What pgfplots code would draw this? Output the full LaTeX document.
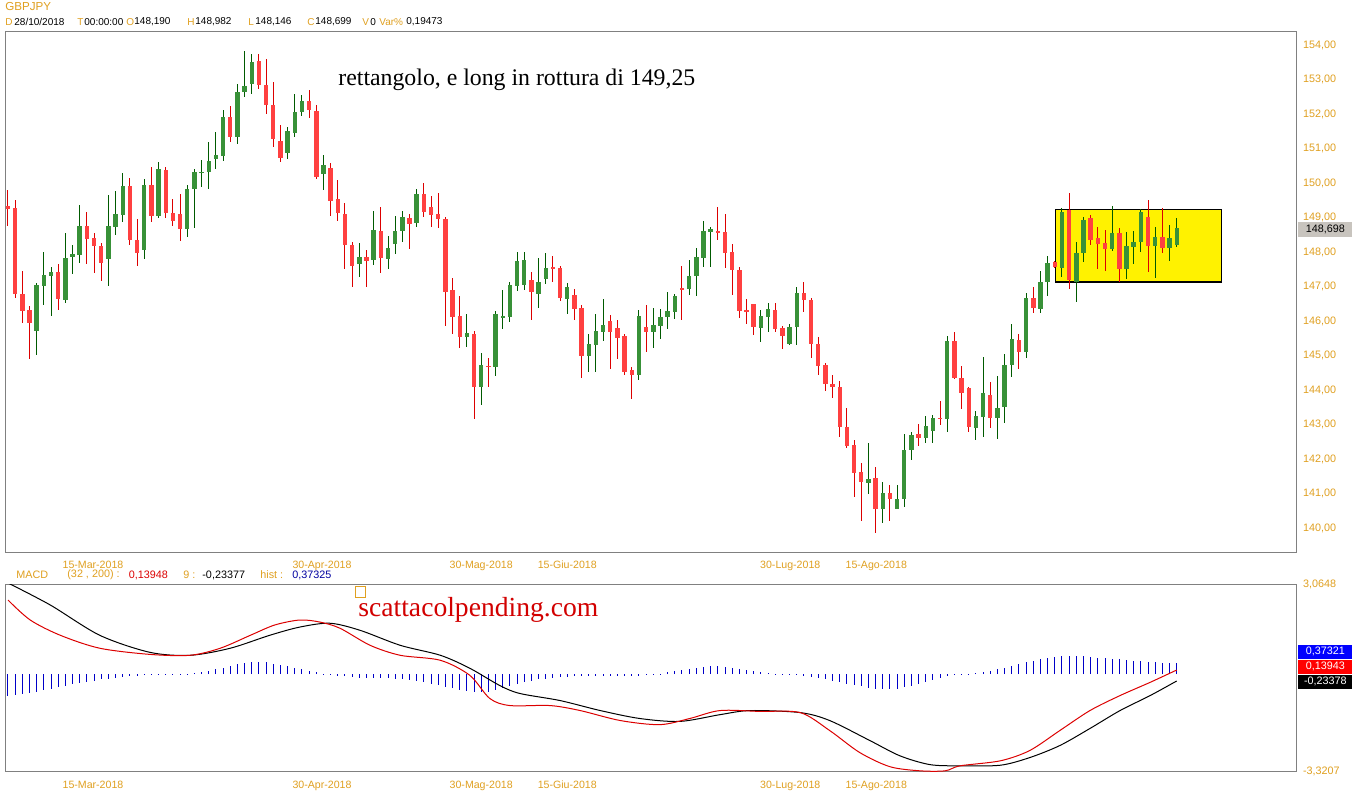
\documentclass[border=0pt]{standalone}
\usepackage{fontspec}
\setmainfont{Liberation Sans}
\newfontfamily\serif{Liberation Serif}
\usepackage{pgfplots}
\usepackage{pgfplotstable}
\pgfplotsset{compat=1.18}

\definecolor{lbl}{RGB}{224,160,32}
\definecolor{frame}{RGB}{128,128,128}
\definecolor{bodyR}{RGB}{255,64,64}
\definecolor{wickR}{RGB}{220,0,0}
\definecolor{bodyG}{RGB}{56,145,56}
\definecolor{wickG}{RGB}{0,90,0}
\definecolor{macdR}{RGB}{220,0,0}
\definecolor{histB}{RGB}{0,0,200}
\definecolor{pricebox}{RGB}{200,196,190}
\definecolor{darkblue}{RGB}{0,0,160}

% daily candles GBPJPY, i = bar index, o h l c
\pgfplotstableread{
i o h l c
4 145.72 147.11 145.02 147.05
5 147.02 148.00 146.46 147.32
6 147.31 147.57 146.15 147.42
8 146.61 148.54 146.53 147.83
9 147.86 148.20 147.37 147.95
10 147.92 149.36 147.69 148.75
14 147.79 149.65 147.00 148.75
15 148.73 149.78 148.50 149.10
16 149.08 150.28 148.88 149.91
19 148.06 150.11 147.79 149.94
21 149.04 150.60 148.98 150.40
25 148.68 149.94 148.43 149.83
26 149.82 150.40 148.70 150.32
27 150.30 150.67 149.89 150.32
28 150.31 151.19 149.82 150.64
29 150.69 151.48 150.41 150.81
30 150.79 152.12 150.65 151.91
32 151.34 152.86 151.12 152.63
33 152.63 153.83 152.48 152.81
34 152.88 153.74 152.57 153.51
39 150.88 151.61 150.69 151.51
40 151.46 152.58 151.34 152.06
41 152.05 152.55 151.95 152.38
44 150.25 150.81 149.79 150.51
49 147.66 148.25 147.28 147.85
51 147.76 149.19 147.62 148.63
53 147.80 148.46 147.52 148.12
54 148.22 149.05 147.93 148.61
55 148.62 149.19 148.30 149.00
57 148.85 149.83 148.72 149.68
64 145.53 146.20 145.25 145.64
66 144.10 145.06 143.56 144.72
68 144.68 146.30 144.41 146.20
69 146.10 146.90 145.77 146.14
70 146.12 147.12 145.98 147.03
71 147.02 147.99 146.88 147.74
72 147.04 148.00 146.90 147.76
74 146.77 147.84 146.39 147.13
75 147.21 147.96 147.06 147.54
78 146.65 147.09 146.21 146.99
81 144.99 145.61 144.53 145.33
82 145.31 146.20 144.53 145.71
83 145.69 146.63 145.41 145.88
88 144.43 146.32 144.29 146.14
90 145.69 146.38 145.23 145.88
91 145.85 146.35 145.49 146.12
92 146.12 146.83 145.78 146.29
93 146.27 146.78 146.07 146.72
95 146.94 147.77 146.76 147.30
96 147.31 148.11 146.73 147.85
97 147.84 148.90 147.57 148.61
98 148.59 148.73 147.57 148.66
105 145.81 146.32 145.40 146.14
106 146.12 146.52 145.69 146.35
109 145.34 145.91 145.31 145.83
110 145.83 146.98 145.31 146.81
120 141.30 142.47 140.98 141.42
122 140.56 141.34 140.16 141.02
124 140.56 141.24 140.56 140.84
125 140.83 142.72 140.62 142.26
126 142.25 142.79 141.96 142.70
128 142.60 143.25 142.47 142.97
129 142.82 143.28 142.47 143.20
131 143.15 145.56 142.77 145.42
135 142.89 143.39 142.55 143.25
136 143.21 144.95 142.63 143.90
138 143.18 144.40 142.58 143.47
139 143.51 145.04 143.03 144.72
140 144.72 145.90 144.37 145.48
142 145.11 146.80 144.94 146.66
144 146.36 147.45 146.22 147.13
145 147.12 147.88 146.73 147.67
147 147.53 149.27 147.28 149.17
149 147.14 148.28 146.56 147.96
150 147.96 149.00 147.72 148.93
154 148.09 149.33 148.03 148.54
156 147.50 148.59 147.21 148.17
157 148.15 148.62 147.64 148.28
158 148.28 149.24 148.01 149.17
160 148.18 148.73 147.25 148.43
162 148.11 148.79 147.75 148.40
163 148.190 148.982 148.146 148.699
}\upcandles

\pgfplotstableread{
i o h l c
0 149.33 149.80 148.75 149.24
1 149.28 149.51 146.66 146.77
2 146.78 147.45 145.95 146.30
3 146.32 146.43 144.89 145.93
7 147.42 147.65 146.32 146.65
11 148.75 149.16 147.66 148.39
12 148.41 148.54 147.38 148.16
13 148.17 148.27 147.17 147.69
17 149.91 150.14 148.20 148.35
18 148.35 148.96 147.60 147.98
20 149.94 150.47 148.88 149.04
22 150.38 150.47 148.98 149.14
23 149.12 149.53 148.76 148.91
24 149.10 149.68 148.33 148.68
31 151.91 152.23 151.20 151.34
35 153.54 153.74 152.72 152.83
36 152.84 153.59 152.00 152.25
37 152.25 152.93 151.03 151.27
38 151.22 151.67 150.60 150.72
42 152.38 152.70 151.88 152.11
43 152.09 152.26 150.12 150.17
45 150.43 150.59 149.05 149.49
46 149.54 150.09 148.91 149.12
47 149.09 149.43 147.52 148.19
48 148.20 148.29 147.00 147.60
50 147.85 148.06 146.98 147.75
52 148.61 149.31 147.40 147.84
56 149.00 149.09 148.10 148.82
58 149.68 149.99 149.02 149.17
59 149.31 149.62 148.73 149.08
60 149.09 149.70 148.69 148.95
61 148.96 149.01 145.86 146.85
62 146.89 147.25 145.62 146.12
63 146.14 146.72 145.23 145.54
65 145.61 145.71 143.15 144.10
67 144.70 144.94 144.08 144.67
73 147.19 147.42 146.03 146.85
76 147.57 147.88 147.14 147.52
77 147.54 147.59 146.58 146.68
79 146.75 146.92 146.03 146.36
80 146.38 146.46 144.34 144.99
84 146.00 146.18 144.62 145.69
85 145.80 146.03 144.91 145.52
86 145.57 145.62 144.43 144.52
87 144.58 144.67 143.73 144.43
89 145.83 146.46 145.10 145.68
94 146.96 147.59 146.03 146.91
99 148.59 149.31 148.35 148.56
100 148.58 149.09 147.54 147.98
101 148.00 148.23 146.76 147.49
102 147.49 147.57 146.10 146.30
103 146.32 146.64 145.92 146.29
104 146.49 146.49 145.59 145.83
107 146.32 146.51 145.68 145.78
108 145.81 145.86 145.20 145.56
111 146.81 147.14 146.25 146.60
112 146.61 146.66 144.94 145.32
113 145.32 145.53 144.43 144.69
114 144.72 144.77 143.98 144.16
115 144.17 144.43 143.76 144.08
116 144.10 144.26 142.65 142.92
117 142.94 143.49 142.31 142.39
118 142.41 142.55 140.91 141.60
119 141.61 141.88 140.19 141.32
121 141.44 141.77 139.85 140.56
123 141.02 141.24 140.19 140.85
127 142.72 143.01 142.39 142.60
130 143.20 143.69 142.99 143.15
132 145.42 145.67 144.31 144.36
133 144.35 144.70 143.46 143.90
134 144.05 144.10 142.79 142.94
137 143.87 144.23 142.89 143.18
141 145.44 145.62 144.60 145.11
143 146.66 146.98 146.22 146.37
146 147.70 147.74 147.54 147.56
148 149.22 149.70 146.92 147.19
151 148.98 149.07 148.20 148.35
152 148.40 148.73 147.50 148.23
153 148.27 148.64 147.46 148.08
155 148.54 148.69 147.14 147.50
159 149.01 149.51 147.43 148.18
161 148.43 149.27 147.98 148.11
}\dncandles

\pgfplotsset{
  chartaxis/.style={
    anchor=north west, width=645.5pt, scale only axis,
    xmin=-0.418, xmax=179.64,
    axis line style={frame, line width=0.5pt},
    tick style={draw=none},
    xtick={11.85,43.8,66,78,109.1,121.1},
    xticklabels={15-Mar-2018,30-Apr-2018,30-Mag-2018,15-Giu-2018,30-Lug-2018,15-Ago-2018},
    xticklabel style={font=\fontsize{5.3}{6}\selectfont, text=lbl,
      text height=4pt, text depth=1pt, yshift=-0.8pt},
    yticklabel pos=right,
    yticklabel style={font=\fontsize{5.4}{6}\selectfont, text=lbl, anchor=west},
  },
  wick/.style={draw=none, mark=none, error bars/.cd, y dir=both, y explicit,
    error mark=none, error bar style={draw=#1, line width=0.5pt}},
  body/.style={draw=none, mark=none, error bars/.cd, y dir=both, y explicit,
    error mark=none, error bar style={draw=#1, line width=2.2pt}},
}

\begin{document}
\begin{tikzpicture}
\useasboundingbox (0,0) rectangle (676pt,400pt);
\fill[white] (0,0) rectangle (676pt,400pt);

\begin{axis}[chartaxis, at={(2.5pt,384.15pt)}, height=260.15pt,
  ymin=139.304, ymax=154.3855,
  ytick={140,141,142,143,144,145,146,147,148,149,150,151,152,153,154},
  yticklabels={{140,00},{141,00},{142,00},{143,00},{144,00},{145,00},{146,00},{147,00},{148,00},{149,00},{150,00},{151,00},{152,00},{153,00},{154,00}}]
  % rettangolo
  \addplot[fill=yellow, draw=black, line width=0.6pt] coordinates
    {(146.06,147.13) (169.3,147.13) (169.3,149.24) (146.06,149.24)} -- cycle;
  \addplot[wick=wickG] table[x=i, y expr={(\thisrow{h}+\thisrow{l})/2},
    y error expr={(\thisrow{h}-\thisrow{l})/2}] {\upcandles};
  \addplot[wick=wickR] table[x=i, y expr={(\thisrow{h}+\thisrow{l})/2},
    y error expr={(\thisrow{h}-\thisrow{l})/2}] {\dncandles};
  \addplot[body=bodyG] table[x=i, y expr={(\thisrow{o}+\thisrow{c})/2},
    y error expr={max(abs(\thisrow{c}-\thisrow{o})/2,0.02)}] {\upcandles};
  \addplot[body=bodyR] table[x=i, y expr={(\thisrow{o}+\thisrow{c})/2},
    y error expr={max(abs(\thisrow{c}-\thisrow{o})/2,0.02)}] {\dncandles};
\end{axis}

\begin{axis}[chartaxis, at={(2.5pt,108pt)}, height=93.85pt,
  ymin=-3.3207, ymax=3.0648,
  ytick={-3.3207,3.0648}, yticklabels={{-3,3207},{3,0648}}]
  \addplot[ycomb, histB, line width=0.5pt, mark=none] coordinates {
  (0,-0.75)(1,-0.72)(2,-0.68)(3,-0.64)(4,-0.60)(5,-0.55)(6,-0.50)(7,-0.45)
  (8,-0.40)(9,-0.35)(10,-0.30)(11,-0.26)(12,-0.22)(13,-0.18)(14,-0.15)
  (15,-0.12)(16,-0.10)(17,-0.08)(18,-0.06)(19,-0.04)(20,-0.03)(21,-0.02)(22,-0.01)(23,0.005)(24,0.01)(25,0.02)
  (26,0.04)(27,0.08)(28,0.12)(29,0.17)(30,0.22)(31,0.28)(32,0.33)(33,0.38)(34,0.42)(35,0.42)(36,0.40)(37,0.36)(38,0.32)(39,0.27)(40,0.22)
  (41,0.17)(42,0.12)(43,0.07)(44,0.02)(45,-0.02)(46,-0.05)(47,-0.08)(48,-0.10)(49,-0.12)(50,-0.12)(51,-0.12)(52,-0.12)(53,-0.13)(54,-0.15)(55,-0.17)
  (56,-0.20)(57,-0.24)(58,-0.28)(59,-0.33)(60,-0.38)(61,-0.43)(62,-0.48)(63,-0.53)(64,-0.57)(65,-0.60)(66,-0.62)(67,-0.60)(68,-0.55)(69,-0.48)(70,-0.40)
  (71,-0.33)(72,-0.27)(73,-0.22)(74,-0.18)(75,-0.15)(76,-0.12)(77,-0.10)(78,-0.09)(79,-0.08)(80,-0.08)(81,-0.08)(82,-0.08)(83,-0.08)(84,-0.08)(85,-0.08)(86,-0.07)(87,-0.06)(88,-0.05)(89,-0.03)(90,-0.01)
  (91,0.02)(92,0.06)(93,0.10)(94,0.14)(95,0.18)(96,0.22)(97,0.25)(98,0.27)(99,0.27)(100,0.25)(101,0.22)(102,0.18)(103,0.14)(104,0.10)(105,0.06)
  (106,0.03)(107,0.01)(108,0.005)(109,-0.02)(110,-0.04)(111,-0.07)(112,-0.10)(113,-0.14)(114,-0.18)(115,-0.22)
  (116,-0.27)(117,-0.32)(118,-0.37)(119,-0.42)(120,-0.46)(121,-0.50)(122,-0.52)(123,-0.52)(124,-0.50)(125,-0.45)(126,-0.40)(127,-0.33)(128,-0.26)
  (129,-0.19)(130,-0.13)(131,-0.08)(132,-0.04)(133,-0.01)(134,0.02)(135,0.05)(136,0.08)(137,0.12)(138,0.17)(139,0.22)(140,0.28)
  (141,0.34)(142,0.40)(143,0.46)(144,0.51)(145,0.55)(146,0.58)(147,0.60)(148,0.61)(149,0.61)(150,0.60)(151,0.58)(152,0.56)(153,0.54)(154,0.52)(155,0.50)(156,0.48)(157,0.46)(158,0.44)(159,0.42)(160,0.40)(161,0.39)(162,0.38)(163,0.373)
  };
  % signal
  \addplot[black, line width=0.5pt, smooth, tension=0.5, mark=none] coordinates {
  (0,3.10)(5.9,2.35)(12.8,1.32)(19.8,0.74)(25.4,0.64)(31,0.88)(36.5,1.32)(40.7,1.60)(44.9,1.73)(49.1,1.49)(54.7,0.98)(60.3,0.64)(64.4,0.20)(68.6,-0.39)(71.4,-0.66)(77,-0.90)(82.6,-1.24)(88.1,-1.51)(93.7,-1.61)(99.3,-1.38)(103.5,-1.24)(110.5,-1.31)(114.6,-1.58)(120.2,-2.26)(124.4,-2.78)(128.6,-3.08)(132.8,-3.12)(138.4,-3.10)(142.5,-2.84)(146.7,-2.43)(150.9,-1.85)(155.1,-1.24)(159.3,-0.73)(163,-0.234)
  };
  % macd
  \addplot[macdR, line width=0.5pt, smooth, tension=0.5, mark=none] coordinates {
  (0,2.52)(3.1,1.84)(7.3,1.32)(12.8,0.88)(19.8,0.67)(25.4,0.64)(29.6,0.88)(33.8,1.32)(37.2,1.67)(40.7,1.84)(43.5,1.77)(46.3,1.56)(50.5,0.98)(54.7,0.64)(60.3,0.47)(64.4,-0.04)(67.2,-0.83)(70,-1.07)(75.6,-1.07)(79.8,-1.24)(85.4,-1.58)(90.9,-1.72)(95.1,-1.51)(99.3,-1.24)(104.9,-1.27)(110.5,-1.31)(114.6,-1.92)(118.8,-2.67)(123,-3.15)(127.2,-3.29)(130.7,-3.29)(132.8,-3.12)(138.4,-2.95)(142.5,-2.60)(146.7,-1.92)(150.9,-1.24)(155.1,-0.73)(159.3,-0.28)(163,0.139)
  };
\end{axis}

% intestazione
\node[anchor=west, inner sep=0, text=lbl, font=\fontsize{5.8}{7}\selectfont] at (2.5pt,396.5pt) {GBPJPY};
\begin{scope}[every node/.style={anchor=west, inner sep=0, font=\fontsize{5}{7}\selectfont}]
  \node[text=lbl] at (2.5pt,389pt) {D};
  \node at (7pt,389pt) {28/10/2018};
  \node[text=lbl] at (38.5pt,389pt) {T};
  \node at (42pt,389pt) {00:00:00};
  \node[text=lbl] at (63pt,389pt) {O};
  \node at (67pt,389pt) {148,190};
  \node[text=lbl] at (93.5pt,389pt) {H};
  \node at (97.5pt,389pt) {148,982};
  \node[text=lbl] at (124pt,389pt) {L};
  \node at (127.5pt,389pt) {148,146};
  \node[text=lbl] at (153.5pt,389pt) {C};
  \node at (157.5pt,389pt) {148,699};
  \node[text=lbl] at (181pt,389pt) {V};
  \node at (185pt,389pt) {0};
  \node[text=lbl] at (189.5pt,389pt) {Var\%};
  \node at (203pt,389pt) {0,19473};
\end{scope}

% riga MACD
\begin{scope}[every node/.style={anchor=west, inner sep=0, font=\fontsize{5.4}{6}\selectfont}]
  \node[text=lbl] at (8pt,112.5pt) {MACD};
  \node[text=lbl] at (33.5pt,112.5pt) {(32 , 200) :};
  \node[text=macdR] at (64.25pt,112.5pt) {0,13948};
  \node[text=lbl] at (91.5pt,112.5pt) {9 :};
  \node at (101pt,112.5pt) {-0,23377};
  \node[text=lbl] at (130pt,112.5pt) {hist :};
  \node[text=darkblue] at (146pt,112.5pt) {0,37325};
\end{scope}

% etichette a destra
\begin{scope}[every node/.style={anchor=west, inner sep=0, minimum width=27pt, minimum height=7.2pt, font=\fontsize{5.4}{6}\selectfont}]
  \node[fill=pricebox] at (649pt,285.25pt) {148,698};
  \node[fill=blue, text=white] at (649pt,74.15pt) {0,37321};
  \node[fill=red, text=white] at (649pt,66.65pt) {0,13943};
  \node[fill=black, text=white] at (649pt,59.15pt) {-0,23378};
\end{scope}

\node[anchor=west, inner sep=0, font=\serif\fontsize{11.9}{13}\selectfont] at (169pt,360pt)
  {rettangolo, e long in rottura di 149,25};
\node[anchor=west, inner sep=0, text={rgb,255:red,210;green,0;blue,0}, font=\serif\fontsize{13.8}{15}\selectfont] at (179pt,95pt)
  {scattacolpending.com};
\draw[lbl, line width=0.5pt] (177.5pt,101.5pt) rectangle (182.5pt,107pt);
\end{tikzpicture}
\end{document}
